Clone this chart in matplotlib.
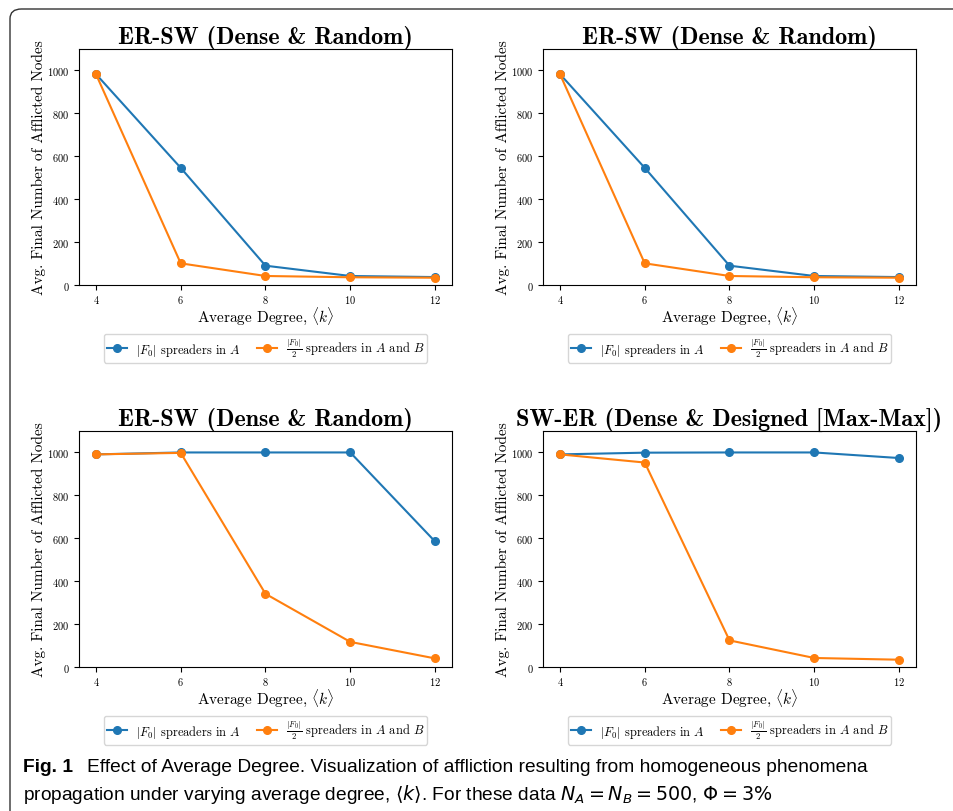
import matplotlib
matplotlib.use("Agg")
import matplotlib.pyplot as plt
from matplotlib.patches import FancyBboxPatch

plt.rcParams['mathtext.fontset'] = 'cm'
plt.rcParams['font.family'] = 'cmr10'
plt.rcParams['axes.formatter.use_mathtext'] = True

degree = [4, 6, 8, 10, 12]

# panel values
er_sw_a = [983, 546, 90, 42, 37]
er_sw_ab = [983, 101, 42, 36, 34]
er_sw2_a = [991, 1000, 1000, 1000, 585]
er_sw2_ab = [991, 998, 341, 117, 40]
sw_er_a = [991, 999, 1000, 1000, 974]
sw_er_ab = [991, 953, 124, 42, 34]

titles = ["ER-SW (Dense & Random)", "ER-SW (Dense & Random)",
          "ER-SW (Dense & Random)", "SW-ER (Dense & Designed [Max-Max])"]
series = [(er_sw_a, er_sw_ab), (er_sw_a, er_sw_ab),
          (er_sw2_a, er_sw2_ab), (sw_er_a, sw_er_ab)]
lab_a = r"$|F_0|$ spreaders in $A$"
lab_ab = r"$\frac{|F_0|}{2}$ spreaders in $A$ and $B$"

W, H = 954, 812
fig = plt.figure(figsize=(W / 100, H / 100), dpi=100)

# outer frame of the figure box (rounded top-left corner)
frame = FancyBboxPatch((10 / W, -0.1), 1.2, 0.1 + (H - 10) / H,
                       boxstyle="round,pad=0,rounding_size=0.012",
                       transform=fig.transFigure, fill=False,
                       edgecolor='#333333', lw=1.0)
fig.patches.append(frame)

boxes = [(79, 50), (543, 50), (79, 432), (543, 432)]
for (x0, y0), title, (ya, yab) in zip(boxes, titles, series):
    ax = fig.add_axes([x0 / W, 1 - (y0 + 236) / H, 373 / W, 236 / H])
    ax.plot(degree, ya, 'o-', color='#1f77b4', label=lab_a, ms=5.5, lw=1.5)
    ax.plot(degree, yab, 'o-', color='#ff7f0e', label=lab_ab, ms=5.5, lw=1.5)
    ax.set_ylim(0, 1100)
    ax.set_xticks([4, 6, 8, 10, 12])
    ax.set_yticks([0, 200, 400, 600, 800, 1000])
    ax.tick_params(labelsize=7.5)
    ax.tick_params(axis='x', pad=2.5)
    ax.set_title(title, fontsize=17.4, fontfamily='cmb10', pad=3)
    ax.set_xlabel(r"Average Degree, $\langle k\rangle$", fontsize=11, labelpad=0)
    ax.set_ylabel("Avg. Final Number of Afflicted Nodes", fontsize=11, labelpad=1)
    ax.legend(loc='upper center', bbox_to_anchor=(0.5, -0.18), ncol=2,
              fontsize=9, handlelength=1.6, columnspacing=1.3,
              borderpad=0.25, handletextpad=0.7)

cap = ['Liberation Sans Narrow', 'Liberation Sans']
fig.text(23 / W, 1 - 768 / H, "Fig. 1", fontsize=13.8, fontweight='bold',
         family=cap, va='center')
fig.text(87 / W, 1 - 768 / H,
         "Effect of Average Degree. Visualization of affliction resulting from homogeneous phenomena",
         fontsize=13.8, family=cap, va='center')
fig.text(23 / W, 1 - 795 / H,
         r"propagation under varying average degree, $\langle k\rangle$. For these data $N_A = N_B = 500$, $\Phi = 3\%$",
         fontsize=13.8, family=cap, va='center', math_fontfamily='dejavusans')

fig.savefig("out.png", dpi=100)
